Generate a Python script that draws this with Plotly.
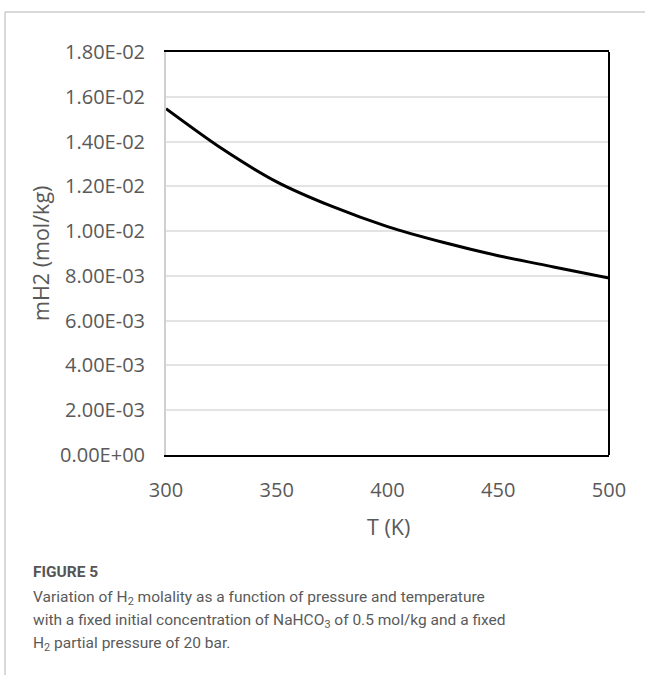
import plotly.graph_objects as go

# ---- data ----
temperature_K = [300, 325, 350, 375, 400, 425, 450, 475, 500]
mH2_mol_kg = [0.01547, 0.0137, 0.0122, 0.0111, 0.0102, 0.0095, 0.0089, 0.0084, 0.0079]

y_tick_vals = [0, 0.002, 0.004, 0.006, 0.008, 0.010, 0.012, 0.014, 0.016, 0.018]
y_tick_text = ["0.00E+00", "2.00E-03", "4.00E-03", "6.00E-03", "8.00E-03",
               "1.00E-02", "1.20E-02", "1.40E-02", "1.60E-02", "1.80E-02"]
x_tick_vals = [300, 350, 400, 450, 500]

W, H = 645, 675
L, R, T, B = 166, 609, 52, 455  # plot area in pixels


def px(x):
    return (x - L) / (R - L)


def py(y):
    return (B - y) / (B - T)


fig = go.Figure()
fig.add_trace(go.Scatter(
    x=temperature_K, y=mH2_mol_kg, mode="lines",
    line=dict(color="black", width=3, shape="spline", smoothing=0.8),
    showlegend=False, hoverinfo="skip",
))

tick_font = dict(family="Open Sans, sans-serif", size=20, color="#595959")
cap_font = dict(family="Roboto, sans-serif", size=15.5, color="#5a5a5a")

fig.update_layout(
    width=W, height=H,
    margin=dict(l=L, r=W - R, t=T, b=H - B),
    paper_bgcolor="white", plot_bgcolor="white",
    xaxis=dict(
        range=[300, 500], tickvals=x_tick_vals, showgrid=False,
        showline=True, linecolor="black", linewidth=2, mirror=True,
        ticks="", tickfont=tick_font, ticklabelstandoff=16, zeroline=False,
    ),
    yaxis=dict(
        range=[0, 0.018], tickvals=y_tick_vals, ticktext=y_tick_text,
        showgrid=True, gridcolor="#e3e3e3", gridwidth=1.5,
        showline=True, linecolor="#d0d0d0", linewidth=2,
        ticks="", tickfont=tick_font, ticklabelstandoff=15, zeroline=False,
    ),
    shapes=[
        # right black frame line
        dict(type="line", xref="paper", yref="paper", x0=1, x1=1, y0=0, y1=1,
             line=dict(color="black", width=2)),
        # card borders
        dict(type="line", xref="paper", yref="paper", x0=px(5), x1=px(645),
             y0=py(12), y1=py(12), line=dict(color="#cccccc", width=1.5)),
        dict(type="line", xref="paper", yref="paper", x0=px(5), x1=px(5),
             y0=py(12), y1=py(675), line=dict(color="#cccccc", width=1.5)),
    ],
    annotations=[
        dict(text="mH2 (mol/kg)", xref="paper", yref="paper", x=px(40), y=py(254),
             textangle=-90, showarrow=False, xanchor="center", yanchor="middle",
             font=dict(family="Open Sans, sans-serif", size=21.5, color="#595959")),
        dict(text="T (K)", xref="paper", yref="paper", x=px(388), y=py(526),
             showarrow=False, xanchor="center", yanchor="middle",
             font=dict(family="Open Sans, sans-serif", size=21.5, color="#595959")),
        dict(text="<b>FIGURE 5</b>", xref="paper", yref="paper", x=px(31), y=py(572),
             showarrow=False, xanchor="left", yanchor="middle",
             font=dict(family="Roboto, sans-serif", size=15.5, color="#555555")),
        dict(text="Variation of H<sub>2</sub> molality as a function of pressure and temperature",
             xref="paper", yref="paper", x=px(31), y=py(598),
             showarrow=False, xanchor="left", yanchor="middle", font=cap_font),
        dict(text="with a fixed initial concentration of NaHCO<sub>3</sub> of 0.5 mol/kg and a fixed",
             xref="paper", yref="paper", x=px(31), y=py(621),
             showarrow=False, xanchor="left", yanchor="middle", font=cap_font),
        dict(text="H<sub>2</sub> partial pressure of 20 bar.",
             xref="paper", yref="paper", x=px(31), y=py(644),
             showarrow=False, xanchor="left", yanchor="middle", font=cap_font),
    ],
)

fig.write_html("out.html")
